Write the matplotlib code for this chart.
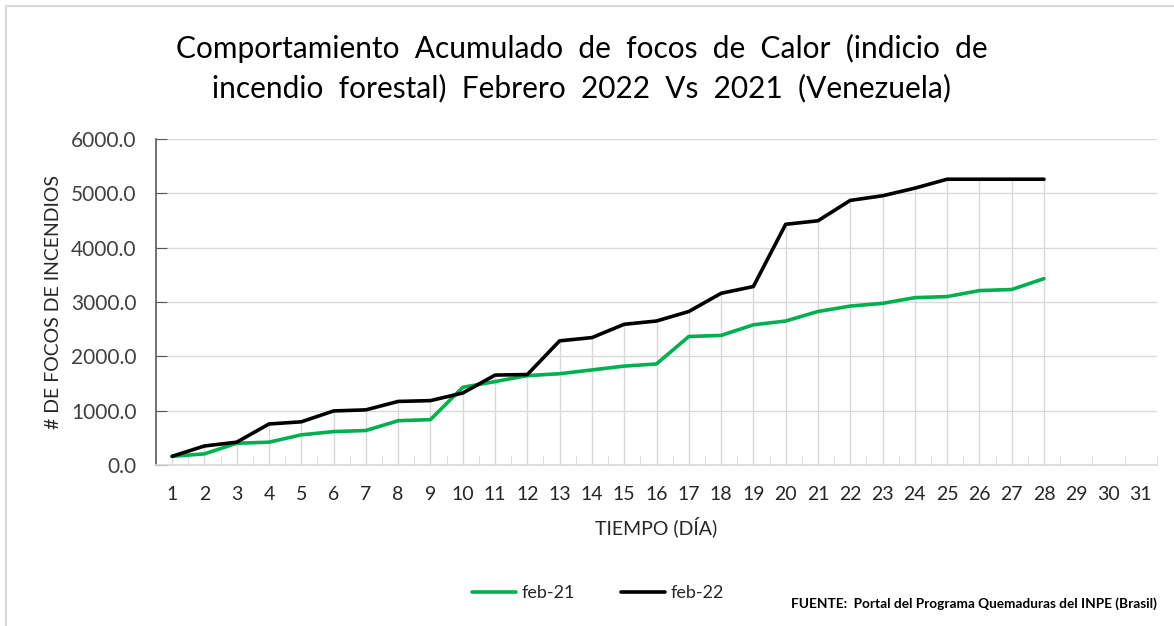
import matplotlib
matplotlib.use("Agg")
import matplotlib.pyplot as plt
from matplotlib.patches import Rectangle
import numpy as np

days = list(range(1, 32))
days_data = list(range(1, 29))
feb21 = [160, 205, 400, 420, 555, 615, 635, 815, 835, 1430, 1535, 1645, 1680, 1750,
         1820, 1860, 2365, 2385, 2580, 2650, 2825, 2925, 2975, 3080, 3100, 3210, 3230, 3430]
feb22 = [160, 350, 420, 755, 795, 995, 1015, 1170, 1185, 1325, 1655, 1665, 2285, 2345,
         2590, 2650, 2825, 3160, 3285, 4430, 4495, 4870, 4955, 5095, 5260, 5260, 5260, 5260]
yticks = [0, 1000, 2000, 3000, 4000, 5000, 6000]

title = "Comportamiento  Acumulado  de  focos  de  Calor  (indicio  de\nincendio  forestal)  Febrero  2022  Vs  2021  (Venezuela)"
font = ["Lato", "DejaVu Sans"]
plt.rcParams['font.family'] = font

fig = plt.figure(figsize=(11.74, 6.26), dpi=100)
W, H = 1174, 626
# outer frame
fig.patches.append(Rectangle((6 / W, -0.1), 1.2, 1 - 6 / H + 0.1, transform=fig.transFigure,
                             fill=False, edgecolor="#d9d9d9", linewidth=1.5))

ax = fig.add_axes([156 / W, 1 - 465 / H, (1157 - 156) / W, (465 - 139) / H])

ax.set_xlim(0.5, 31.5)
ax.set_ylim(0, 6000)

# horizontal gridlines
ax.set_yticks(yticks)
ax.set_yticklabels([f"{v:.1f}" for v in yticks], fontsize=15, color="#404040")
ax.yaxis.grid(True, color="#d9d9d9", linewidth=1)
ax.set_axisbelow(True)

# drop lines
tops = [max(a, b) for a, b in zip(feb21, feb22)]
ax.vlines(days_data, 0, tops, color="#d9d9d9", linewidth=1, zorder=1)

ax.plot(days_data, feb21, color="#00b050", linewidth=2.6, label="feb-21", zorder=3,
        solid_capstyle="round", solid_joinstyle="round")
ax.plot(days_data, feb22, color="#000000", linewidth=2.6, label="feb-22", zorder=4,
        solid_capstyle="round", solid_joinstyle="round")

ax.set_xticks(days)
ax.set_xticklabels([str(d) for d in days], fontsize=14, color="#262626")
ax.set_xticks(np.arange(0.5, 32, 1), minor=True)
ax.tick_params(axis="x", which="major", length=0, pad=15)
ax.tick_params(axis="x", which="minor", direction="in", length=7, color="#d9d9d9")
ax.tick_params(axis="y", direction="in", length=8, color="#595959", pad=14)

for s in ["top", "right"]:
    ax.spines[s].set_visible(False)
ax.spines["left"].set_color("#595959")
ax.spines["left"].set_linewidth(1.2)
ax.spines["bottom"].set_color("#d9d9d9")
ax.spines["bottom"].set_linewidth(1.2)

ax.set_xlabel("TIEMPO (DÍA)", fontsize=14, color="#262626", labelpad=10)
ax.set_ylabel("# DE FOCOS DE INCENDIOS", fontsize=14, color="#262626")
ax.yaxis.set_label_coords(-(156 - 62) / (1157 - 156), 0.5)

fig.text(582 / W, 1 - 68 / H, title, ha="center", va="center", fontsize=21.5,
         color="#000000", linespacing=1.45)

leg = fig.legend(loc="center", bbox_to_anchor=(598 / W, 1 - 593 / H), ncol=2, frameon=False,
                 fontsize=13, handlelength=2.4, handletextpad=0.3, columnspacing=2.6)
for t in leg.get_texts():
    t.set_color("#262626")

fig.text(1157 / W, 1 - 604 / H, "FUENTE:  Portal del Programa Quemaduras del INPE (Brasil)",
         ha="right", va="center", fontsize=9.8, fontweight="bold", color="#000000")

fig.savefig("out.png", dpi=100)
